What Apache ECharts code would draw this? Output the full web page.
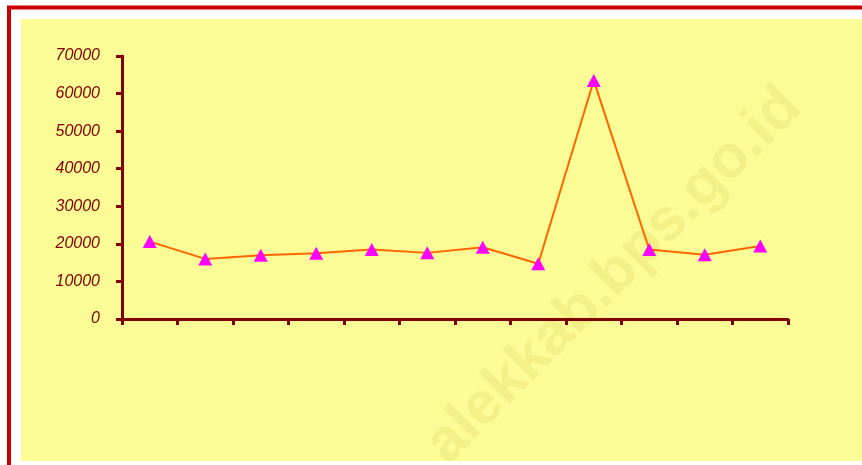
<!DOCTYPE html>
<html>
<head>
<meta charset="utf-8">
<script src="https://cdn.jsdelivr.net/npm/echarts@6/dist/echarts.min.js"></script>
<style>
html,body{margin:0;padding:0;background:#fff;}
#chart{width:862px;height:465px;}
</style>
</head>
<body>
<div id="chart"></div>
<script>
var categories = ['1','2','3','4','5','6','7','8','9','10','11','12'];
var values = [20600, 16000, 17000, 17500, 18500, 17600, 19100, 14700, 63500, 18500, 17100, 19400];
var yTicks = [0, 10000, 20000, 30000, 40000, 50000, 60000, 70000];
var watermark = 'alekkab.bps.go.id';

var chart = echarts.init(document.getElementById('chart'), null, {renderer: 'canvas'});
var option = {
  backgroundColor: '#ffffff',
  animation: false,
  graphic: [
    {type: 'rect', z: -20, shape: {x: 9, y: 7.5, width: 900, height: 500},
     style: {fill: '#ffffff', stroke: '#CC0000', lineWidth: 4}},
    {type: 'rect', z: -19, shape: {x: 21, y: 19, width: 841, height: 442},
     style: {fill: '#FCFC96'}},
    {type: 'text', z: -15, x: 614, y: 276, rotation: Math.PI / 4,
     style: {text: watermark, fill: 'rgba(200,190,60,0.18)', font: 'bold 60px "Liberation Sans", Arial, sans-serif',
       textAlign: 'center', textVerticalAlign: 'middle'}}
  ],
  grid: {left: 122, right: 74, top: 56, bottom: 146, containLabel: false},
  xAxis: {
    type: 'category',
    data: categories,
    boundaryGap: true,
    axisLine: {lineStyle: {color: '#800000', width: 3}},
    axisTick: {show: true, length: 6, inside: false, lineStyle: {color: '#800000', width: 3}},
    axisLabel: {show: false},
    splitLine: {show: false}
  },
  yAxis: {
    type: 'value',
    min: yTicks[0],
    max: yTicks[yTicks.length - 1],
    interval: yTicks[1] - yTicks[0],
    axisLine: {show: true, lineStyle: {color: '#800000', width: 3}},
    axisTick: {show: true, length: 6, lineStyle: {color: '#800000', width: 3}},
    axisLabel: {color: '#800000', fontStyle: 'italic', fontSize: 16,
      fontFamily: '"Liberation Sans", Arial, sans-serif', margin: 22,
      formatter: function (v) { return String(v); }},
    splitLine: {show: false}
  },
  series: [{
    type: 'line',
    data: values,
    symbol: 'triangle',
    symbolSize: [14, 13],
    itemStyle: {color: '#FF00FF'},
    lineStyle: {color: '#FF6600', width: 2},
    z: 5
  }]
};
chart.setOption(option);
</script>
</body>
</html>
